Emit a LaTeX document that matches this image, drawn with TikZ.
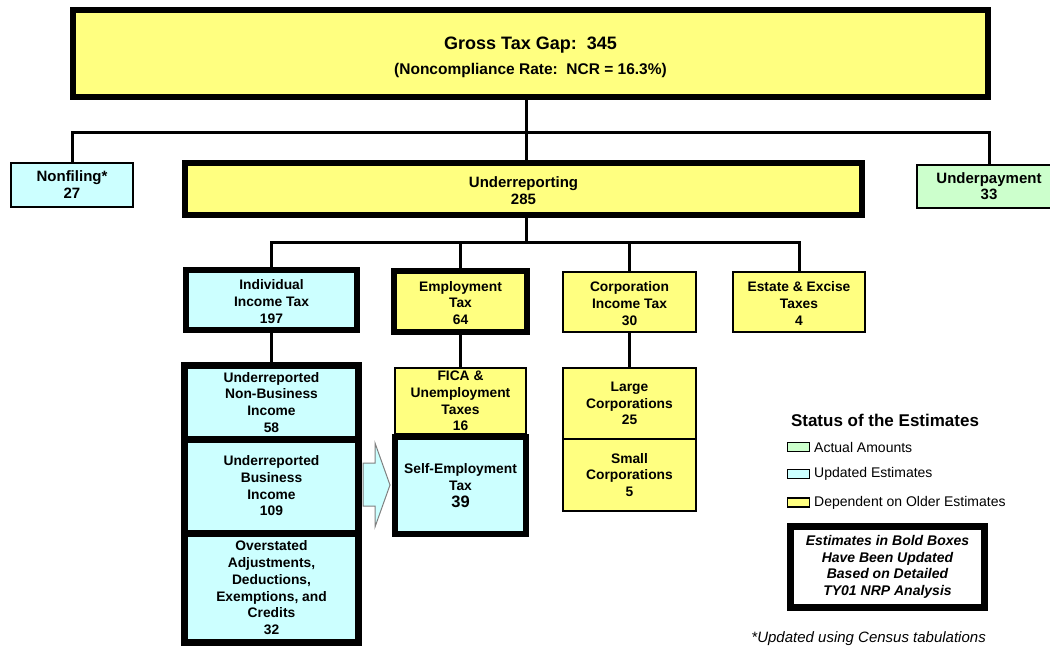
\documentclass[tikz,border=0pt]{standalone}
\usepackage{fontspec}
\setmainfont{Liberation Sans}
\definecolor{yfill}{HTML}{FFFF80}
\definecolor{cfill}{HTML}{CCFFFF}
\definecolor{gfill}{HTML}{CCFFCC}
\newcommand{\myfs}[2]{\fontsize{#1}{#2}\selectfont}
\begin{document}
\begin{tikzpicture}[x=1pt,y=-1pt,
 box/.style={draw=black, inner sep=0pt, align=center, font=\bfseries\myfs{13.8}{16.7}},
 thinbox/.style={box, line width=1.6pt},
 thickbox/.style={box, line width=6pt},
 colbox/.style={box, line width=7pt, fill=cfill, minimum width=174pt},
 yel/.style={fill=yfill}, cya/.style={fill=cfill}, grn/.style={fill=gfill},
 conn/.style={line width=3pt, line join=miter},
 swatch/.style={draw=black, line width=1pt, minimum width=22pt, minimum height=9pt, inner sep=0pt},
 legtext/.style={anchor=west, inner sep=0pt, font=\myfs{14}{16}},
]
\clip (0,0) rectangle (1050,647);
\fill[white] (0,0) rectangle (1050,647);

% junction coordinates
\coordinate (j1) at (526,133);
\coordinate (j2) at (526,243);

% boxes (placed first so that connectors can refer to them)
\node[thickbox,yel,minimum width=915pt,minimum height=87pt,font=\bfseries\myfs{18}{25}] (top) at (530.5,53.5) {\rule{0pt}{20pt}Gross Tax Gap:\ \ 345\\{\myfs{15.5}{25}(Noncompliance Rate:\ \ NCR = 16.3\%)}};
\node[thinbox,cya,minimum width=122pt,minimum height=44pt,font=\bfseries\myfs{15}{17}] (nf) at (72,185) {Nonfiling*\\27};
\node[thickbox,yel,minimum width=677pt,minimum height=52pt,font=\bfseries\myfs{15}{17}] (ur) at (523.5,189) {\rule{0pt}{14pt}Underreporting\\285};
\node[thinbox,grn,minimum width=144pt,minimum height=43pt,font=\bfseries\myfs{15}{16}] (up) at (989,186.5) {Underpayment\\33};

\node[thickbox,cya,minimum width=171pt,minimum height=60pt] (ind) at (271.5,300) {\rule{0pt}{13pt}Individual\\Income Tax\\197};
\node[thickbox,yel,minimum width=133pt,minimum height=61pt] (emp) at (460.5,301.5) {\rule{0pt}{13pt}Employment\\Tax\\64};
\node[thinbox,yel,minimum width=133pt,minimum height=60pt] (corp) at (629.5,302) {\rule{0pt}{13pt}Corporation\\Income Tax\\30};
\node[thinbox,yel,minimum width=132pt,minimum height=60pt] (est) at (799,302) {\rule{0pt}{13pt}Estate \& Excise\\Taxes\\4};

% connectors
\draw[conn] (j1 |- top.south) -- (j1 |- ur.north);
\draw[conn] (nf.north) -- (nf.north |- j1) -- (up.north |- j1) -- (up.north);
\draw[conn] (j2 |- ur.south) -- (j2);
\draw[conn] (ind.north) -- (ind.north |- j2) -- (est.north |- j2) -- (est.north);
\draw[conn] (emp.north) -- (emp.north |- j2);
\draw[conn] (corp.north) -- (corp.north |- j2);

% lower boxes
\node[colbox,minimum height=73.5pt] (nb) at (271.5,402.25) {Underreported\\Non-Business\\Income\\58};
\node[colbox,minimum height=94pt] (bi) at (271.5,486) {Underreported\\Business\\Income\\109};
\node[colbox,minimum height=109.5pt] (oa) at (271.5,587.75) {Overstated\\Adjustments,\\Deductions,\\Exemptions, and\\Credits\\32};

\node[thinbox,yel,minimum width=131pt,minimum height=66pt] (fica) at (460.5,401) {FICA \&\\Unemployment\\Taxes\\16};
\node[thickbox,cya,minimum width=131pt,minimum height=97pt] (se) at (460.5,485.5) {Self-Employment\\Tax\\{\myfs{16.5}{17}39}};

\node[thinbox,yel,minimum width=133pt,minimum height=71pt] (lg) at (629.5,403.5) {Large\\Corporations\\25};
\node[thinbox,yel,minimum width=133pt,minimum height=72pt] (sm) at (629.5,475) {Small\\Corporations\\5};

\draw[conn] (ind.south) -- (nb.north);
\draw[conn] (emp.south) -- (fica.north);
\draw[conn] (corp.south) -- (lg.north);

% block arrow
\draw[draw=gray, fill=cfill, line width=1pt, line join=miter]
  (363,463) -- (375,463) -- (375,443) -- (390,485) -- (375,527) -- (375,506) -- (363,506) -- cycle;

% legend
\node[inner sep=0pt, font=\bfseries\myfs{17}{20}] (lt) at (885,420) {Status of the Estimates};
\node[swatch,fill=gfill] (s1) at (798.5,447) {};
\node[swatch,fill=cfill] (s2) at (798.5,473.5) {};
\node[swatch,fill=yfill,line width=1.6pt] (s3) at (798.5,502.5) {};
\node[legtext] (t1) at (814,447) {Actual Amounts};
\node[legtext] (t2) at (814,473.5) {Updated Estimates};
\node[legtext] (t3) at (814,502.5) {Dependent on Older Estimates};
\node[box, fill=white, line width=7pt, minimum width=194pt, minimum height=81pt, font=\bfseries\itshape\myfs{14}{16.7}] (bb) at (887.5,567) {Estimates in Bold Boxes\\Have Been Updated\\Based on Detailed\\TY01 NRP Analysis};
\node[anchor=east, inner sep=0pt, font=\itshape\myfs{15}{16}] (fn) at (986,639) {*Updated using Census tabulations};
\end{tikzpicture}
\end{document}
